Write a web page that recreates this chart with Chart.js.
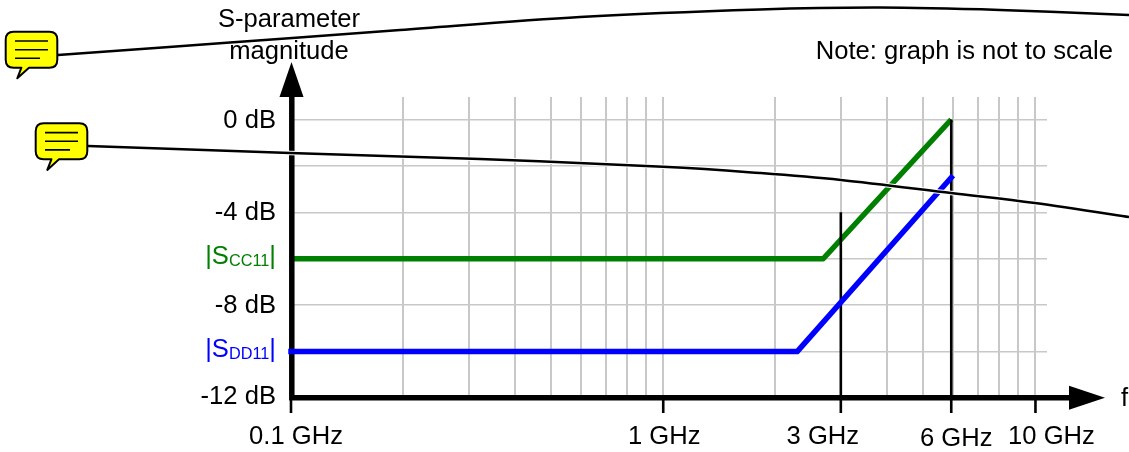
<!DOCTYPE html>
<html><head><meta charset="utf-8">
<script src="https://cdn.jsdelivr.net/npm/chart.js@4"></script>
<style>html,body{margin:0;padding:0;background:#fff}canvas{display:block}</style>
</head><body><canvas id="c" width="1129" height="452"></canvas>
<script>
const gridFreqs=[0.1,0.2,0.3,0.4,0.5,0.6,0.7,0.8,0.9,1,2,3,4,5,6,7,8,9,10];
const gridLevels=[0,-2,-4,-6,-8,-10,-12];
const yTickLevels=[0,-4,-8,-12];
const yTickLabels=['0 dB','-4 dB','-8 dB','-12 dB'];
const yLabelDrop=[8.2,8,8,5.5];
const xTickFreqs=[0.1,1,3,5.94,10];
const xTickLabels=['0.1 GHz','1 GHz','3 GHz','6 GHz','10 GHz'];
const xLabelShift=[5,1,-18,5,16];
const xLabelBase=[443.5,443.5,443.5,445.5,443.5];
const ccFreq=[0.1,2.69,5.94];
const ccLevel=[-6,-6,0];
const ddFreq=[0.1,2.29,5.94];
const ddLevel=[-10,-10,-2.5];
const markerFreq=[3,5.94];
const markerTop=[-4,0];
const shortTickFreq=[0.1,1,10];
const axisFloor=-12.65;
const FONT='"Liberation Sans", Arial, sans-serif';
const FS=25.6;
const pts=(xs,ys)=>xs.map((x,i)=>({x,y:ys[i]}));
const vert=(f,top)=>({data:pts([f,f],[top,axisFloor]),borderColor:'#000',borderWidth:2.6,pointRadius:0,clip:false,borderCapStyle:'butt'});
const curve1=[[58,55],[230,42.5],[400,30],[580,17],[760,9.5],[880,7.6],[1000,10],[1129,15]];
const curve2=[[88,146],[290,153],[480,159],[663,166.7],[760,173],[841,180],[951,193],[1035,203],[1129,217]];
function drawCurve(ctx,p){
  const path=()=>{ctx.beginPath();ctx.moveTo(p[0][0],p[0][1]);
    for(let i=0;i<p.length-1;i++){
      const p0=p[Math.max(i-1,0)],p1=p[i],p2=p[i+1],p3=p[Math.min(i+2,p.length-1)];
      ctx.bezierCurveTo(p1[0]+(p2[0]-p0[0])/6,p1[1]+(p2[1]-p0[1])/6,p2[0]-(p3[0]-p1[0])/6,p2[1]-(p3[1]-p1[1])/6,p2[0],p2[1]);
    }};
  path();ctx.strokeStyle='#fff';ctx.lineWidth=4.5;ctx.stroke();
  path();ctx.strokeStyle='#000';ctx.lineWidth=2.5;ctx.stroke();
}
function bubble(ctx,x,y){
  const w=51.6,h=36,r=8;
  ctx.beginPath();ctx.moveTo(x+r,y);ctx.lineTo(x+w-r,y);ctx.quadraticCurveTo(x+w,y,x+w,y+r);
  ctx.lineTo(x+w,y+h-r);ctx.quadraticCurveTo(x+w,y+h,x+w-r,y+h);
  ctx.lineTo(x+23.3,y+h);ctx.lineTo(x+11.6,y+46.6);ctx.lineTo(x+15.7,y+h);
  ctx.lineTo(x+r,y+h);ctx.quadraticCurveTo(x,y+h,x,y+h-r);ctx.lineTo(x,y+r);ctx.quadraticCurveTo(x,y,x+r,y);
  ctx.closePath();ctx.fillStyle='#ff0';ctx.fill();ctx.strokeStyle='#000';ctx.lineWidth=2;ctx.lineJoin='round';ctx.stroke();
  ctx.lineWidth=1.6;ctx.beginPath();
  ctx.moveTo(x+9.3,y+9.3);ctx.lineTo(x+42.3,y+9.3);ctx.moveTo(x+9.3,y+18);ctx.lineTo(x+42.3,y+18);ctx.moveTo(x+9.3,y+26.6);ctx.lineTo(x+34.3,y+26.6);ctx.stroke();
}
function subLabel(ctx,scale,level,sub,color){
  const y=scale.getPixelForValue(level)+5;
  ctx.fillStyle=color;ctx.textBaseline='alphabetic';ctx.textAlign='left';
  ctx.font=FS+'px '+FONT;const a=ctx.measureText('|S').width,c=ctx.measureText('|').width;
  ctx.font='16.3px '+FONT;const b=ctx.measureText(sub).width;
  let x=276-a-b-c;
  ctx.font=FS+'px '+FONT;ctx.fillText('|S',x,y);x+=a;
  ctx.font='16.3px '+FONT;ctx.fillText(sub,x,y+2.3);x+=b;
  ctx.font=FS+'px '+FONT;ctx.fillText('|',x,y);
}
const overlay={
  id:'overlay',
  afterDatasetDraw(chart,args){
    if(args.index!==chart.data.datasets.length-1)return;
    const {ctx,chartArea:a,scales:{x,y}}=chart;
    ctx.save();ctx.fillStyle='#000';ctx.strokeStyle='#000';
    const x0=x.getPixelForValue(0.1)+0.8,y0=y.getPixelForValue(-12)-0.3;
    ctx.lineWidth=5.5;ctx.beginPath();ctx.moveTo(x0,a.top);ctx.lineTo(x0,y0+2.75);ctx.moveTo(x0-2.75,y0);ctx.lineTo(1075,y0);ctx.stroke();
    ctx.beginPath();ctx.moveTo(x0-.3,62);ctx.lineTo(x0+11.7,97);ctx.lineTo(x0-12.3,97);ctx.closePath();ctx.fill();
    ctx.beginPath();ctx.moveTo(1105,y0);ctx.lineTo(1069,y0-12);ctx.lineTo(1069,y0+12);ctx.closePath();ctx.fill();
    ctx.restore();
  },
  afterDraw(chart){
    const {ctx,scales:{x,y}}=chart;
    ctx.save();ctx.fillStyle='#000';ctx.textBaseline='alphabetic';ctx.font=FS+'px '+FONT;
    ctx.textAlign='center';
    ctx.fillText('S-parameter',289,26.5);ctx.fillText('magnitude',289,58.5);
    xTickLabels.forEach((t,i)=>ctx.fillText(t,x.getPixelForValue(xTickFreqs[i])+xLabelShift[i],xLabelBase[i]));
    ctx.textAlign='right';
    yTickLabels.forEach((t,i)=>ctx.fillText(t,276,y.getPixelForValue(yTickLevels[i])+yLabelDrop[i]));
    ctx.fillText('Note: graph is not to scale',1113,59);
    ctx.textAlign='left';ctx.fillText('f',1121,406);
    subLabel(ctx,y,-6,'CC11','#008000');
    subLabel(ctx,y,-10,'DD11','#0000ff');
    drawCurve(ctx,curve1);drawCurve(ctx,curve2);
    bubble(ctx,5.7,31.7);bubble(ctx,35.7,123.3);
    ctx.restore();
  }
};
new Chart(document.getElementById('c'),{
  type:'line',
  plugins:[overlay],
  data:{datasets:[
    {label:'|SDD11|',data:pts(ddFreq,ddLevel),borderColor:'#0000ff',borderWidth:5.5,pointRadius:0,tension:0,clip:false,borderCapStyle:'square',borderJoinStyle:'round'},
    ...markerFreq.map((f,i)=>vert(f,markerTop[i])),
    ...shortTickFreq.map(f=>vert(f,-12)),
    {label:'|SCC11|',data:pts(ccFreq,ccLevel),borderColor:'#008000',borderWidth:5.5,pointRadius:0,tension:0,clip:false,borderCapStyle:'butt',borderJoinStyle:'round'}
  ]},
  options:{
    responsive:false,animation:false,
    layout:{padding:{left:0,right:82,top:97,bottom:0}},
    plugins:{legend:{display:false},tooltip:{enabled:false}},
    scales:{
      x:{type:'logarithmic',min:0.1,max:10.74,
        afterBuildTicks:s=>{s.ticks=gridFreqs.map(value=>({value}))},
        afterFit:s=>{s.height=54},
        border:{display:false},
        grid:{color:'#c8c8c8',lineWidth:2,drawTicks:false},
        ticks:{display:false}},
      y:{type:'linear',min:-12,max:0.97,
        afterBuildTicks:s=>{s.ticks=gridLevels.map(value=>({value}))},
        afterFit:s=>{s.width=291},
        border:{display:false},
        grid:{color:'#c8c8c8',lineWidth:1.5,drawTicks:false},
        ticks:{display:false}}
    }
  }
});
</script></body></html>
